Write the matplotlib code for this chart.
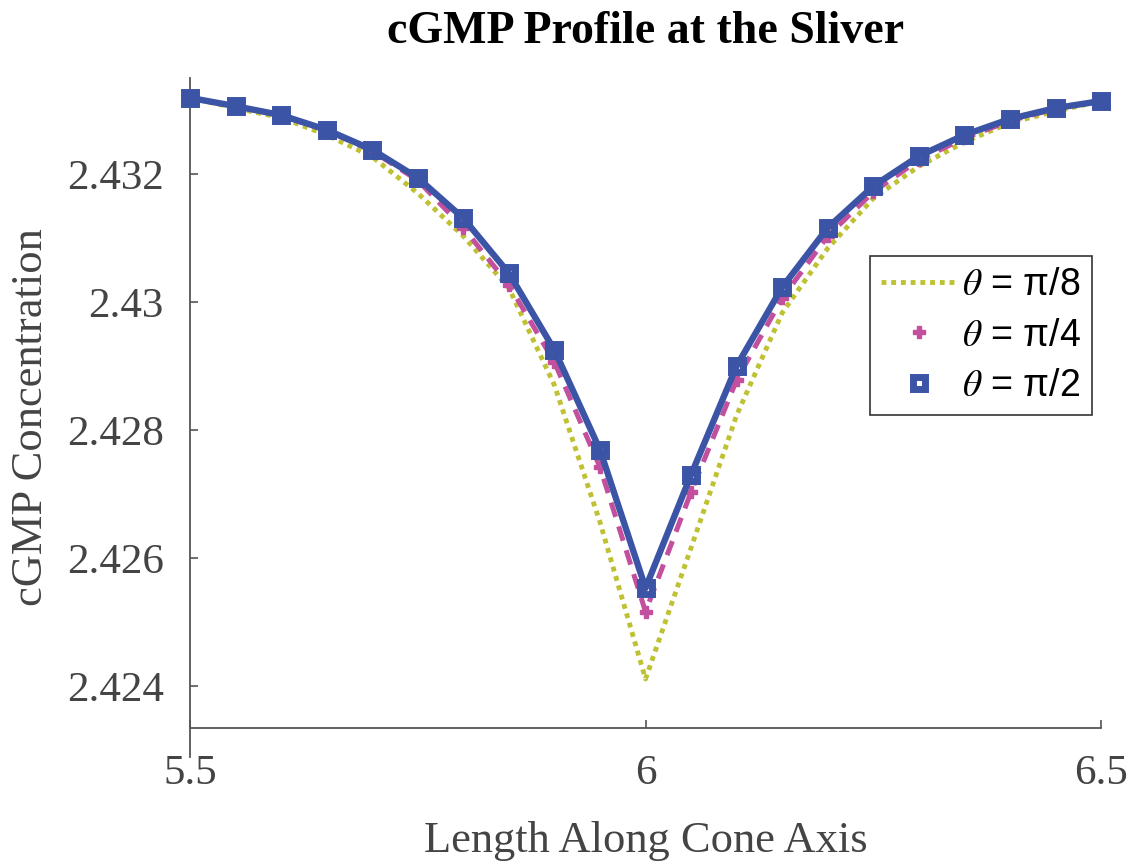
import matplotlib
matplotlib.use("Agg")
import matplotlib.pyplot as plt
from matplotlib.lines import Line2D
import numpy as np

# values
x = [5.50, 5.55, 5.60, 5.65, 5.70, 5.75, 5.80, 5.85, 5.90, 5.95, 6.00,
     6.05, 6.10, 6.15, 6.20, 6.25, 6.30, 6.35, 6.40, 6.45, 6.50]
theta_pi8 = [2.43319, 2.43303, 2.43288, 2.43261, 2.43227, 2.43170, 2.43103,
             2.43022, 2.42870, 2.42656, 2.42411, 2.42616, 2.42823, 2.42983,
             2.43084, 2.43162, 2.43212, 2.43250, 2.43280, 2.43298, 2.43314]
theta_pi4 = [2.43319, 2.43306, 2.43291, 2.43268, 2.43236, 2.43190, 2.43116,
             2.43027, 2.42906, 2.42742, 2.42516, 2.42703, 2.42878, 2.43006,
             2.43103, 2.43172, 2.43222, 2.43256, 2.43283, 2.43302, 2.43314]
theta_pi2 = [2.43319, 2.43306, 2.43292, 2.43269, 2.43238, 2.43194, 2.43131,
             2.43045, 2.42925, 2.42769, 2.42553, 2.42730, 2.42900, 2.43023,
             2.43116, 2.43181, 2.43228, 2.43261, 2.43286, 2.43303, 2.43314]

labels = ['$\\theta$ = π/8', '$\\theta$ = π/4', '$\\theta$ = π/2']
xticks = [5.5, 6.0, 6.5]
xticklabels = ['5.5', '6', '6.5']
yticks = [2.424, 2.426, 2.428, 2.430, 2.432]
yticklabels = ['2.424', '2.426', '2.428', '2.43', '2.432']

yellow = '#BEC132'
magenta = '#C2509E'
blue = '#3B54A5'
gray = '#555555'

plt.rcParams['mathtext.fontset'] = 'stix'
serif = 'Liberation Serif'

fig = plt.figure(figsize=(11.41, 8.61), dpi=100)
ax = fig.add_axes([0.1665, 0.1208, 0.7985, 0.7886])

ax.plot(x, theta_pi8, color=yellow, lw=3.5, ls=(0, (1, 1)), clip_on=False, zorder=2)
ax.plot(x, theta_pi4, color=magenta, lw=3.6, ls=(0, (3, 2)), marker='P', ms=9,
        mec=magenta, clip_on=False, zorder=3)
ax.plot(x, theta_pi2, color=blue, lw=4.6, marker='s', ms=8, mfc='none', mew=5,
        mec=blue, clip_on=False, zorder=4)

ax.set_xlim(5.5, 6.5)
ax.set_ylim(2.42289, 2.4335)

ax.spines['top'].set_visible(False)
ax.spines['right'].set_visible(False)
ax.spines['bottom'].set_position(('data', 2.42334))
for s in ['left', 'bottom']:
    ax.spines[s].set_color(gray)
    ax.spines[s].set_linewidth(1.3)

ax.set_xticks(xticks)
ax.set_xticklabels(xticklabels)
ax.set_yticks(yticks)
ax.set_yticklabels(yticklabels)
ax.tick_params(direction='in', length=6, width=1.2, color=gray,
               labelcolor='#444444', labelsize=31)
ax.tick_params(axis='x', pad=19)
ax.tick_params(axis='y', pad=19)
for t in ax.get_xticklabels() + ax.get_yticklabels():
    t.set_fontfamily(serif)

ax.set_xlabel('Length Along Cone Axis', fontsize=32, family=serif, color='#444444')
ax.xaxis.set_label_coords(0.5, -0.094)
ax.set_ylabel('cGMP Concentration', fontsize=32, family=serif, color='#444444')
ax.yaxis.set_label_coords(-0.152, 0.5)

fig.text(0.566, 0.963, 'cGMP Profile at the Sliver', ha='center', va='center',
         fontsize=33, fontweight='bold', family=serif, color='black')

handles = [
    Line2D([], [], color=yellow, lw=3.5, ls=(0, (1, 1))),
    Line2D([], [], color=magenta, ls='none', marker='P', ms=9),
    Line2D([], [], color=blue, ls='none', marker='s', ms=8, mfc='none', mew=5),
]
leg = ax.legend(handles, labels, loc='upper right',
                bbox_to_anchor=(1092 / 1141, (861 - 256) / 861),
                bbox_transform=fig.transFigure, borderaxespad=0,
                prop={'family': 'Liberation Sans', 'size': 27},
                handlelength=2.0, handletextpad=0.15, labelspacing=0.38,
                borderpad=0.3, fancybox=False, framealpha=1)
leg.get_frame().set_edgecolor('#333333')
leg.get_frame().set_linewidth(1.2)

fig.savefig('out.png', dpi=100)
